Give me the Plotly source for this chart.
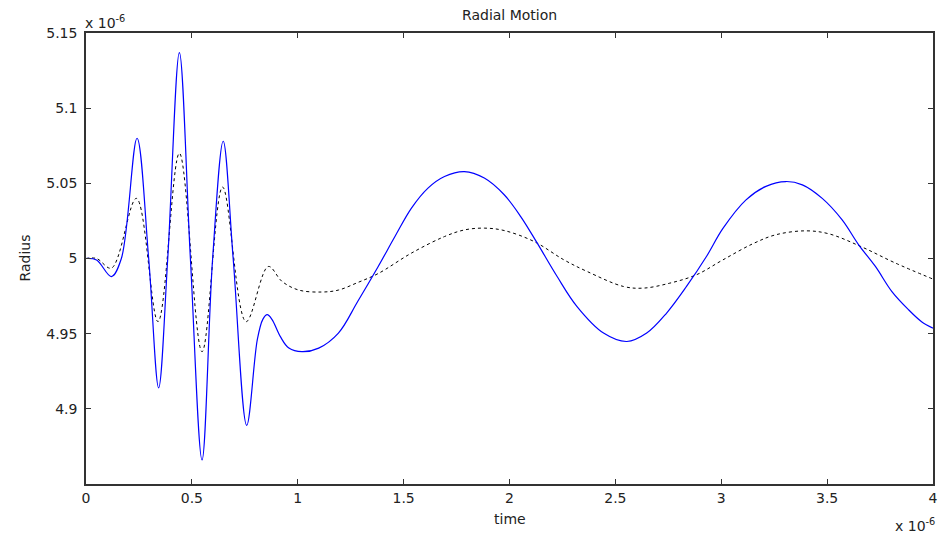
import plotly.graph_objects as go

# time axis in units of 1e-6 s, radius in units of 1e-6 m
t_blue = [0, 0.05, 0.12, 0.167, 0.241, 0.296, 0.343, 0.386, 0.441, 0.493, 0.548,
          0.598, 0.648, 0.695, 0.759, 0.809, 0.835, 0.856, 0.878, 0.918, 0.958, 1.02,
          1.099, 1.192, 1.283, 1.38, 1.459, 1.537, 1.615, 1.693, 1.787, 1.881, 1.975,
          2.053, 2.131, 2.225, 2.319, 2.444, 2.554, 2.648, 2.742, 2.836, 2.93, 3.008,
          3.117, 3.211, 3.305, 3.383, 3.477, 3.571, 3.649, 3.728, 3.806,
          3.884, 3.946, 4.0]
r_blue = [5.0, 4.999, 4.988, 5.0, 5.080, 5.0, 4.914, 5.0, 5.137, 5.0, 4.866,
          5.0, 5.078, 5.0, 4.889, 4.946, 4.9595, 4.9626, 4.9595, 4.948, 4.9404, 4.938,
          4.9404, 4.9504, 4.9714, 4.9947, 5.0146, 5.0335, 5.0468, 5.0545, 5.0578, 5.0535, 5.0424,
          5.0279, 5.0102, 4.988, 4.968, 4.9504, 4.9448, 4.9504, 4.9637, 4.9814, 5.0013, 5.020,
          5.039, 5.048, 5.0512, 5.049, 5.040, 5.0257, 5.0091, 4.9947, 4.978,
          4.966, 4.958, 4.9537]

t_dash = [0, 0.05, 0.12, 0.238, 0.34, 0.441, 0.548, 0.645, 0.756, 0.861, 0.926,
          1.005, 1.114, 1.192, 1.283, 1.38, 1.537, 1.693, 1.787, 1.881, 1.975, 2.116,
          2.257, 2.366, 2.538, 2.632, 2.757, 2.883, 3.008, 3.149, 3.258, 3.399, 3.509,
          3.665, 3.822, 4.0]
r_dash = [5.0, 5.0, 4.9936, 5.040, 4.958, 5.070, 4.938, 5.0475, 4.958, 4.9947, 4.9847,
          4.979, 4.9777, 4.979, 4.984, 4.990, 5.0036, 5.0146, 5.019, 5.0202, 5.0186, 5.0113,
          4.9991, 4.9914, 4.9814, 4.9803, 4.9836, 4.9892, 4.9991, 5.0098, 5.0158, 5.0184, 5.0164,
          5.0076, 4.997, 4.9863]

x_ticks = [0, 0.5, 1, 1.5, 2, 2.5, 3, 3.5, 4]
x_labels = ["0", "0.5", "1", "1.5", "2", "2.5", "3", "3.5", "4"]
y_ticks = [4.9, 4.95, 5.0, 5.05, 5.1, 5.15]
y_labels = ["4.9", "4.95", "5", "5.05", "5.1", "5.15"]

font = "DejaVu Sans, Liberation Sans, Arial, sans-serif"
txt = "#222222"

fig = go.Figure()
fig.add_trace(go.Scatter(x=t_dash, y=r_dash, mode="lines",
                         line=dict(color="black", width=1, dash="3px,3px", shape="spline", smoothing=1.0),
                         showlegend=False, hoverinfo="skip"))
fig.add_trace(go.Scatter(x=t_blue, y=r_blue, mode="lines",
                         line=dict(color="#0000ff", width=1.2, shape="spline", smoothing=1.0),
                         showlegend=False, hoverinfo="skip"))

axis_common = dict(showline=True, mirror="allticks", linecolor="#333333", linewidth=1.5,
                   ticks="inside", ticklen=5, tickcolor="#333333", showgrid=False,
                   zeroline=False, ticklabeloverflow="allow",
                   tickfont=dict(family=font, size=14, color=txt))

fig.update_layout(
    width=939, height=537,
    margin=dict(l=86, r=1, t=33, b=53),
    paper_bgcolor="white", plot_bgcolor="white",
    xaxis=dict(range=[0, 4], tickvals=x_ticks, ticktext=x_labels, **axis_common),
    yaxis=dict(range=[4.85, 5.15], tickvals=y_ticks, ticktext=y_labels, ticklabelstandoff=4, **axis_common),
    annotations=[
        dict(text="Radial Motion", x=0.5, y=1, xref="paper", yref="paper", yshift=8,
             showarrow=False, xanchor="center", yanchor="bottom",
             font=dict(family=font, size=14, color=txt)),
        dict(text="time", x=0.5, y=0, xref="paper", yref="paper", yshift=-25,
             showarrow=False, xanchor="center", yanchor="top",
             font=dict(family=font, size=14, color=txt)),
        dict(text="Radius", x=0, y=0.5, xref="paper", yref="paper", xshift=-62,
             showarrow=False, xanchor="center", yanchor="middle", textangle=-90,
             font=dict(family=font, size=14, color=txt)),
        dict(text="x 10<sup>-6</sup>", x=0, y=1, xref="paper", yref="paper", xshift=-3, yshift=0,
             showarrow=False, xanchor="left", yanchor="bottom",
             font=dict(family=font, size=14, color=txt)),
        dict(text="x 10<sup>-6</sup>", x=1, y=0, xref="paper", yref="paper", xshift=4, yshift=-30,
             showarrow=False, xanchor="right", yanchor="top",
             font=dict(family=font, size=14, color=txt)),
    ],
)

fig.write_html("out.html")
